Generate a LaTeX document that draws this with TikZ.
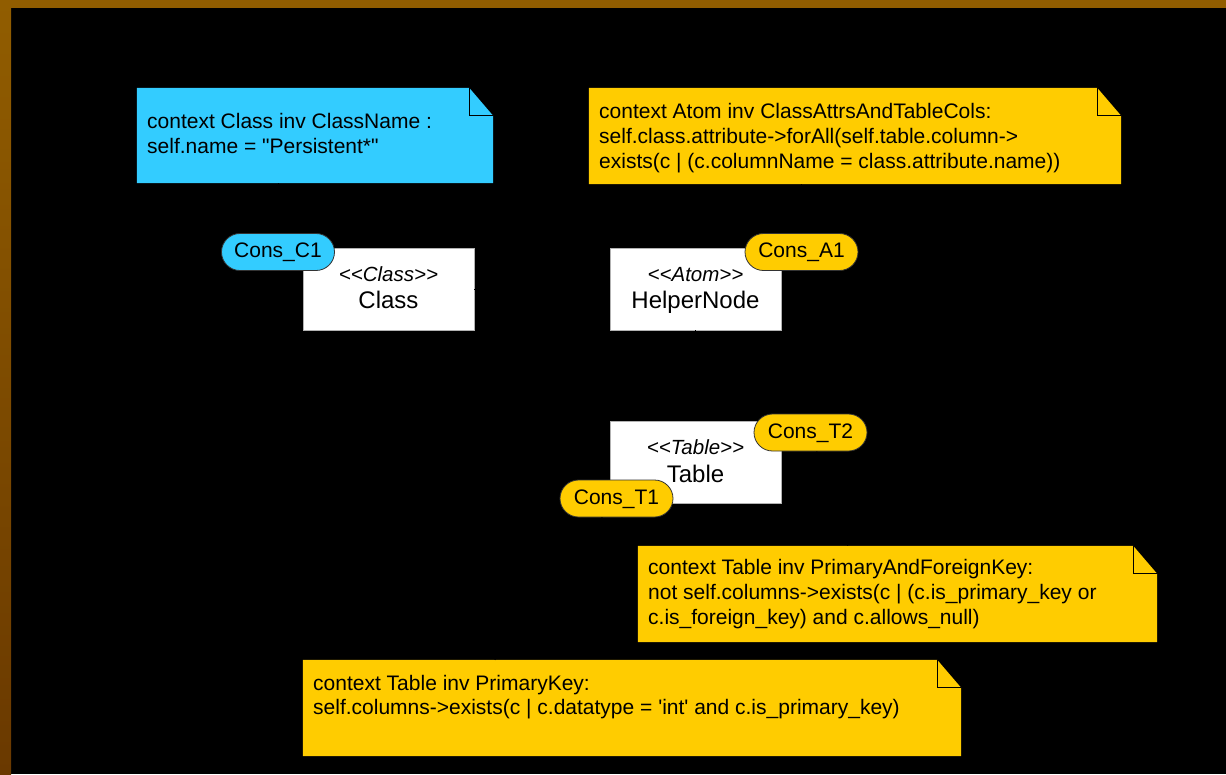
\documentclass[tikz,border=0pt]{standalone}
\usepackage{fontspec}
\newfontfamily\umlfont{Liberation Sans}
\usetikzlibrary{calc}

\definecolor{frameTop}{RGB}{145,93,0}
\definecolor{frameBot}{RGB}{106,57,0}
\definecolor{oclblue}{RGB}{51,204,255}
\definecolor{oclyellow}{RGB}{255,204,0}

\tikzset{
  notebody/.style={rectangle, draw=none, inner sep=0pt},
  noteline/.style={anchor=base west, inner sep=0pt, text=black,
    font=\umlfont\fontsize{21}{25}\selectfont},
  classbox/.style={rectangle, fill=white, draw=black!30, line width=0.8pt,
    minimum width=171, minimum height=82, inner sep=0pt},
  stereo/.style={anchor=base, inner sep=0pt, font=\umlfont\itshape\fontsize{20.5}{24}\selectfont},
  classname/.style={anchor=base, inner sep=0pt, font=\umlfont\fontsize{24}{28}\selectfont},
  consoval/.style={rectangle, rounded corners=18.5, draw=black!80, line width=0.8pt,
    fill=#1, minimum width=113, minimum height=37, inner sep=0pt,
    text height=15, text depth=4, font=\umlfont\fontsize{21}{25}\selectfont},
  conn/.style={draw=black, line width=1pt},
  foldline/.style={draw=black, line width=1pt},
}

% note with a folded top-right corner: #1 node name, #2 fill colour
\newcommand\drawnote[2]{%
  \fill[#2] (#1.north west) -- ([xshift=-24pt]#1.north east)
    -- ([yshift=-28pt]#1.north east) -- (#1.south east) -- (#1.south west) -- cycle;
  \draw[foldline] ([xshift=-24pt]#1.north east) -- ([xshift=-24pt,yshift=-28pt]#1.north east)
    -- ([yshift=-28pt]#1.north east);
}

\begin{document}
\begin{tikzpicture}[x=1pt,y=-1pt]
  \useasboundingbox (0,0) rectangle (1226,774);

  % canvas and frame
  \fill[black] (0,0) rectangle (1226,774);
  \shade[top color=frameTop, bottom color=frameBot] (0,0) rectangle (11,774);
  \fill[frameTop] (0,0) rectangle (1226,8);

  % OCL notes
  \node[notebody, minimum width=356, minimum height=95] (n1) at (315,135.5) {};
  \drawnote{n1}{oclblue}
  \node[noteline] (n1a) at (147,128.5) {context Class inv ClassName :};
  \node[noteline] (n1b) at (147,153.5) {self.name = "Persistent*"};

  \node[notebody, minimum width=532, minimum height=96] (n2) at (855,136) {};
  \drawnote{n2}{oclyellow}
  \node[noteline] (n2a) at (599,118) {context Atom inv ClassAttrsAndTableCols:};
  \node[noteline] (n2b) at (599,143) {self.class.attribute->forAll(self.table.column->};
  \node[noteline] (n2c) at (599,168) {exists(c | (c.columnName = class.attribute.name))};

  \node[notebody, minimum width=519, minimum height=96] (n3) at (897.5,594) {};
  \drawnote{n3}{oclyellow}
  \node[noteline] (n3a) at (648,574) {context Table inv PrimaryAndForeignKey:};
  \node[noteline] (n3b) at (648,599) {not self.columns->exists(c | (c.is\_primary\_key or};
  \node[noteline] (n3c) at (648,624) {c.is\_foreign\_key) and c.allows\_null)};

  \node[notebody, minimum width=658, minimum height=96] (n4) at (632,708) {};
  \drawnote{n4}{oclyellow}
  \node[noteline] (n4a) at (313,690) {context Table inv PrimaryKey:};
  \node[noteline] (n4b) at (313,714) {self.columns->exists(c | c.datatype = 'int' and c.is\_primary\_key)};

  % classes
  \node[classbox] (cls) at (388.5,289) {};
  \node[stereo] (clsS) at (388.5,281) {<<Class>>};
  \node[classname] (clsN) at (388.5,308) {Class};

  \node[classbox] (hlp) at (695.5,289) {};
  \node[stereo] (hlpS) at (695.5,281) {<<Atom>>};
  \node[classname] (hlpN) at (695.5,308) {HelperNode};

  \node[classbox] (tbl) at (695.5,462) {};
  \node[stereo] (tblS) at (695.5,454) {<<Table>>};
  \node[classname] (tblN) at (695.5,482) {Table};

  % constraint tags
  \node[consoval=oclblue] (c1) at (278,252) {Cons\_C1};
  \node[consoval=oclyellow] (a1) at (801.5,252) {Cons\_A1};
  \node[consoval=oclyellow] (t2) at (810.5,432.5) {Cons\_T2};
  \node[consoval=oclyellow] (t1) at (616.5,498.5) {Cons\_T1};

  % connectors
  \coordinate (n3top) at ($(n3.north west)+(210,0)$);
  \coordinate (n4top) at ($(n4.north west)+(192,0)$);
  \draw[conn] (c1.north) -- (c1.north |- n1.south);
  \draw[conn] (a1.north) -- (a1.north |- n2.south);
  \draw[conn] (t2) -- (n3top);
  \draw[conn] (t1) -- (n4top);
  \draw[conn] (cls) -- (hlp);
  \draw[conn] (hlp) -- (tbl);
\end{tikzpicture}
\end{document}
